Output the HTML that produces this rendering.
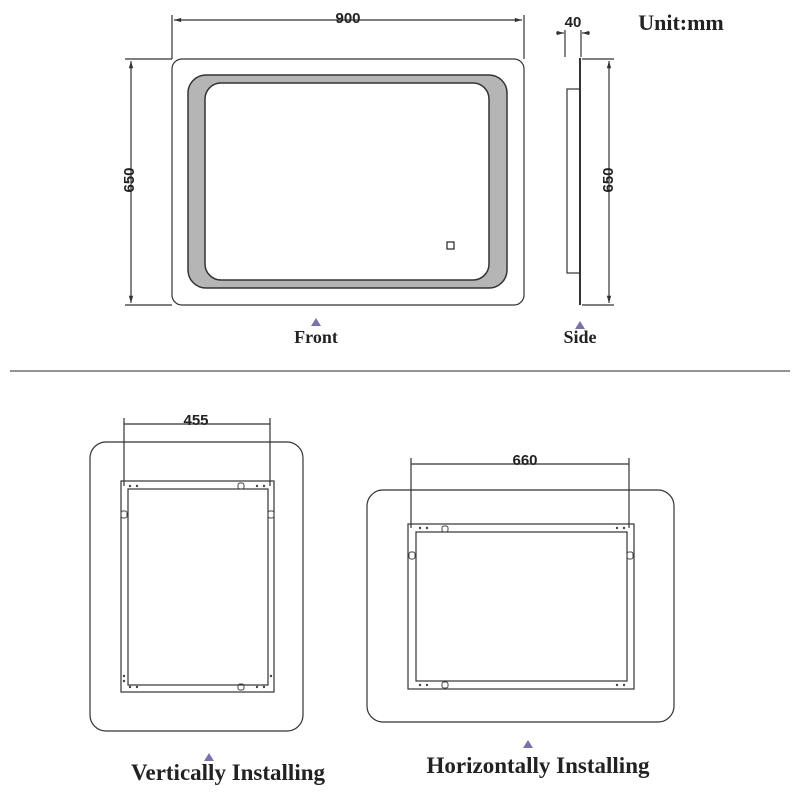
<!DOCTYPE html>
<html><head><style>body{margin:0;background:#fff}svg{display:block}</style></head><body>
<svg width="800" height="800" viewBox="0 0 800 800" xmlns="http://www.w3.org/2000/svg">
<defs>
<marker id="a" viewBox="0 0 10 10" refX="10" refY="5" markerWidth="8" markerHeight="6" orient="auto-start-reverse"><path d="M0,2 L10,5 L0,8 z" fill="#333"/></marker>
</defs>
<g fill="none" stroke="#333" stroke-width="1.2">
<!-- front -->
<rect x="172" y="59" width="352" height="246" rx="10"/>
<path fill="#b5b5b5" fill-rule="evenodd" stroke="#333" stroke-width="1.5" d="M206,75 H489 A18,18 0 0 1 507,93 V270 A18,18 0 0 1 489,288 H206 A18,18 0 0 1 188,270 V93 A18,18 0 0 1 206,75 Z M221,83 H473 A16,16 0 0 1 489,99 V264 A16,16 0 0 1 473,280 H221 A16,16 0 0 1 205,264 V99 A16,16 0 0 1 221,83 Z"/>
<rect x="447" y="242" width="7" height="7" stroke="#222"/>
<line x1="172" y1="15" x2="172" y2="59"/><line x1="524" y1="15" x2="524" y2="59"/>
<line x1="174" y1="20" x2="522" y2="20" marker-start="url(#a)" marker-end="url(#a)"/>
<line x1="125" y1="59" x2="172" y2="59"/><line x1="125" y1="305" x2="172" y2="305"/>
<line x1="131" y1="61" x2="131" y2="303" marker-start="url(#a)" marker-end="url(#a)"/>
<!-- side -->
<line x1="580" y1="58" x2="580" y2="305" stroke-width="2"/>
<rect x="567" y="89" width="13" height="184"/>
<line x1="565" y1="30" x2="565" y2="57"/><line x1="581" y1="30" x2="581" y2="57"/>
<line x1="556" y1="33" x2="564" y2="33" marker-end="url(#a)"/>
<line x1="590" y1="33" x2="582" y2="33" marker-end="url(#a)"/>
<line x1="582" y1="59" x2="614" y2="59"/><line x1="582" y1="305" x2="614" y2="305"/>
<line x1="609" y1="61" x2="609" y2="303" marker-start="url(#a)" marker-end="url(#a)"/>
<line x1="10" y1="371" x2="790" y2="371" stroke="#555"/>
<!-- vertical -->
<rect x="90" y="442" width="213" height="289" rx="16"/>
<rect x="121" y="481" width="153" height="211"/>
<rect x="128" y="489" width="140" height="196"/>
<line x1="124" y1="418" x2="124" y2="486"/><line x1="270" y1="418" x2="270" y2="486"/>
<line x1="124" y1="424" x2="270" y2="424"/>
<!-- horizontal -->
<rect x="367" y="490" width="307" height="232" rx="16"/>
<rect x="408" y="524" width="226" height="165"/>
<rect x="416" y="532" width="211" height="149"/>
<line x1="411" y1="458" x2="411" y2="528"/><line x1="629" y1="458" x2="629" y2="528"/>
<line x1="411" y1="464" x2="629" y2="464"/>
</g>
<g fill="#444">
<circle cx="130" cy="486" r="1.2"/><circle cx="137" cy="486" r="1.2"/><circle cx="257" cy="486" r="1.2"/><circle cx="264" cy="486" r="1.2"/>
<circle cx="130" cy="687" r="1.2"/><circle cx="137" cy="687" r="1.2"/><circle cx="257" cy="687" r="1.2"/><circle cx="264" cy="687" r="1.2"/>
<circle cx="124" cy="676" r="1.2"/><circle cx="124" cy="681" r="1.2"/><circle cx="271" cy="676" r="1.2"/>
<circle cx="420" cy="528" r="1.2"/><circle cx="427" cy="528" r="1.2"/><circle cx="617" cy="528" r="1.2"/><circle cx="624" cy="528" r="1.2"/>
<circle cx="420" cy="685" r="1.2"/><circle cx="427" cy="685" r="1.2"/><circle cx="617" cy="685" r="1.2"/><circle cx="624" cy="685" r="1.2"/>
</g>
<g fill="none" stroke="#444" stroke-width="1">
<rect x="238" y="483" width="6" height="6" rx="2"/><rect x="238" y="684" width="6" height="6" rx="2"/>
<rect x="121" y="511" width="6" height="7" rx="2"/><rect x="268" y="511" width="6" height="7" rx="2"/>
<rect x="442" y="526" width="6" height="6" rx="2"/><rect x="442" y="682" width="6" height="6" rx="2"/>
<rect x="409" y="552" width="6" height="7" rx="2"/><rect x="627" y="552" width="6" height="7" rx="2"/>
</g>
<g fill="#7a72a8">
<path d="M311,326 L321,326 L316,318 z"/>
<path d="M575,329 L585,329 L580,321 z"/>
<path d="M204,761 L214,761 L209,753 z"/>
<path d="M523,748 L533,748 L528,740 z"/>
</g>
<g font-family="Liberation Sans, sans-serif" font-weight="bold" font-size="15" fill="#222" text-anchor="middle">
<text x="348" y="23">900</text>
<text x="573" y="27">40</text>
<text x="196" y="425">455</text>
<text x="525" y="465">660</text>
<text transform="translate(134,180) rotate(-90)">650</text>
<text transform="translate(613,180) rotate(-90)">650</text>
</g>
<g font-family="Liberation Serif, serif" font-weight="bold" fill="#222" text-anchor="middle">
<text x="681" y="30" font-size="22">Unit:mm</text>
<text x="316" y="343" font-size="18">Front</text>
<text x="580" y="343" font-size="18">Side</text>
<text x="228" y="780" font-size="23">Vertically Installing</text>
<text x="538" y="773" font-size="23">Horizontally Installing</text>
</g>
</svg>
</body></html>
